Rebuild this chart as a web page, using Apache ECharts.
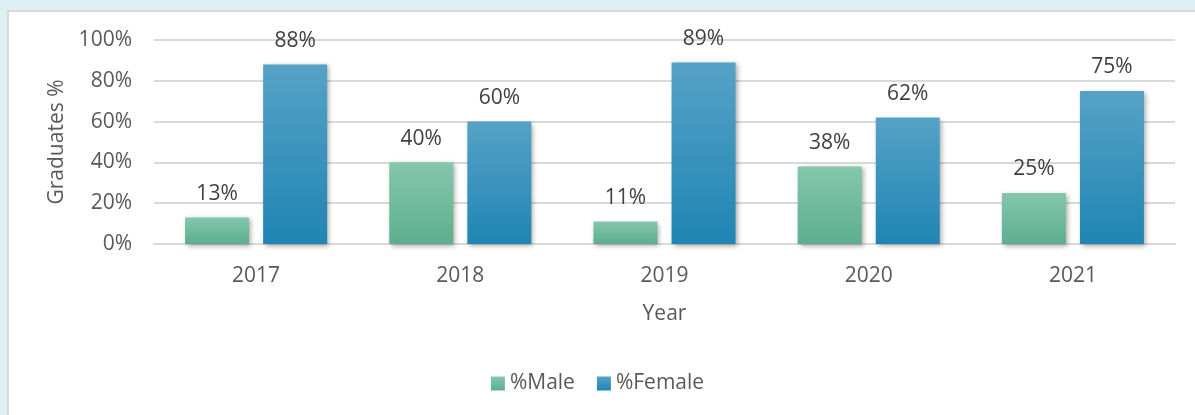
<!DOCTYPE html>
<html>
<head>
<meta charset="utf-8">
<script src="https://cdn.jsdelivr.net/npm/echarts@6/dist/echarts.min.js"></script>
<style>
  html, body { margin: 0; padding: 0; background: #dff0f5; overflow: hidden; }
  #panel { position: absolute; left: 7px; top: 10px; width: 1200px; height: 420px;
           background: #ffffff; border-left: 2px solid #d9d9d9; border-top: 2px solid #d9d9d9; }
  #chart { position: absolute; left: 0; top: 0; width: 1195px; height: 415px; }
</style>
</head>
<body>
<div id="panel"></div>
<div id="chart"></div>
<script>
// Share of graduates by sex, per year
const years = ['2017', '2018', '2019', '2020', '2021'];
const malePct = [13, 40, 11, 38, 25];
const femalePct = [88, 60, 89, 62, 75];
const yTicks = [0, 20, 40, 60, 80, 100];

const FONT = '"Open Sans", "Noto Sans", sans-serif';
const TEXT_SIZE = 21;

function grad(top, bottom) {
  return new echarts.graphic.LinearGradient(0, 0, 0, 1, [
    { offset: 0, color: top },
    { offset: 1, color: bottom }
  ]);
}

const barStyle = (top, bottom) => ({
  color: grad(top, bottom),
  shadowColor: 'rgba(0,0,0,0.35)',
  shadowBlur: 5,
  shadowOffsetX: 2,
  shadowOffsetY: 2
});

const labelStyle = {
  show: true,
  position: 'top',
  distance: 13,
  formatter: p => p.value + '%',
  fontFamily: FONT,
  fontSize: TEXT_SIZE,
  color: '#404040'
};

const axisText = { fontFamily: FONT, fontSize: TEXT_SIZE, color: '#595959' };

const chart = echarts.init(document.getElementById('chart'), null, { renderer: 'canvas' });
chart.setOption({
  animation: false,
  backgroundColor: 'transparent',
  grid: { left: 154, right: 20, top: 40, bottom: 171, containLabel: false },
  legend: {
    data: ['%Male', '%Female'],
    icon: 'rect',
    bottom: 16,
    left: 'center',
    itemWidth: 14,
    itemHeight: 14,
    itemGap: 22,
    textStyle: axisText
  },
  xAxis: {
    type: 'category',
    data: years,
    name: 'Year',
    nameLocation: 'middle',
    nameGap: 60,
    nameTextStyle: axisText,
    axisTick: { show: false },
    axisLine: { lineStyle: { color: '#d9d9d9', width: 2 } },
    axisLabel: Object.assign({ margin: 22 }, axisText)
  },
  yAxis: {
    type: 'value',
    min: yTicks[0],
    max: yTicks[yTicks.length - 1],
    interval: 20,
    name: 'Graduates %',
    nameLocation: 'middle',
    nameRotate: 90,
    nameGap: 86,
    nameTextStyle: axisText,
    axisLine: { show: false },
    axisTick: { show: false },
    axisLabel: Object.assign({ formatter: '{value}%', margin: 22 }, axisText),
    splitLine: { lineStyle: { color: '#d9d9d9', width: 2 } }
  },
  series: [
    {
      name: '%Male',
      type: 'bar',
      data: malePct,
      barWidth: 64,
      barGap: '22%',
      itemStyle: barStyle('#84c7ad', '#5dae8e'),
      label: labelStyle
    },
    {
      name: '%Female',
      type: 'bar',
      data: femalePct,
      barWidth: 64,
      itemStyle: barStyle('#56a2c6', '#1f85b3'),
      label: labelStyle
    }
  ]
});
</script>
</body>
</html>
